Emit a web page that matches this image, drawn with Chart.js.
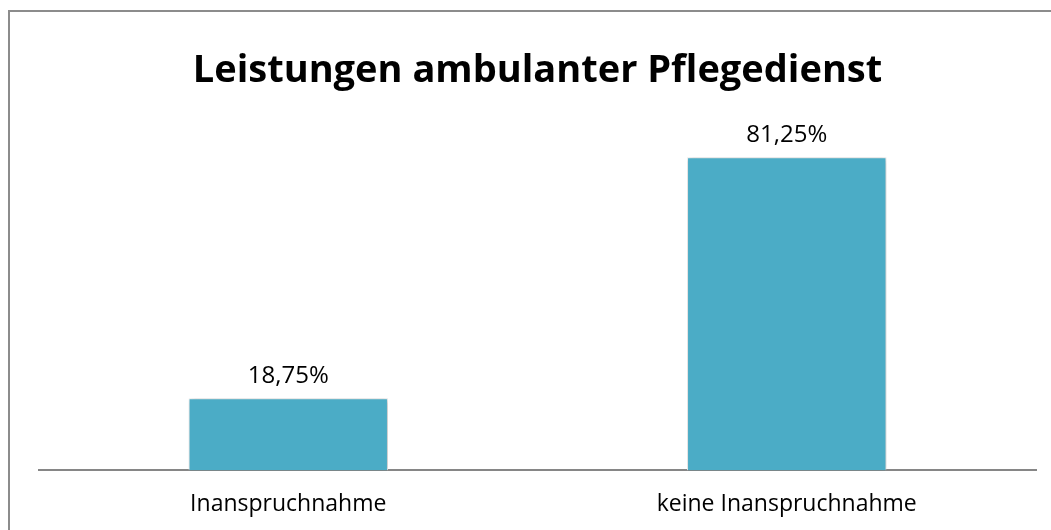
<!DOCTYPE html>
<html>
<head>
<meta charset="utf-8">
<script src="https://cdn.jsdelivr.net/npm/chart.js@4"></script>
<style>
  html, body { margin: 0; padding: 0; background: #fff; overflow: hidden; }
  #frame { position: absolute; left: 8px; top: 10px; width: 1100px; height: 600px;
           border-left: 2px solid #8c8c8c; border-top: 2px solid #8c8c8c; }
  #wrap { position: absolute; left: 0; top: 0; width: 1051px; height: 538px; }
</style>
</head>
<body>
<div id="frame"></div>
<div id="wrap"><canvas id="pflegeChart"></canvas></div>
<script>
var categories = ["Inanspruchnahme", "keine Inanspruchnahme"];
var values = [18.75, 81.25];
var valueLabels = ["18,75%", "81,25%"];

// draws the percent labels above the bars
var barLabels = {
    id: 'barLabels',
    beforeDatasetsDraw: function(chart) {
        chart.ctx.save();
        chart.ctx.shadowColor = 'rgba(0,0,0,0.3)';
        chart.ctx.shadowBlur = 5;
        chart.ctx.shadowOffsetX = 1;
        chart.ctx.shadowOffsetY = 1;
    },
    afterDatasetsDraw: function(chart) {
        var ctx = chart.ctx;
        ctx.restore();
        var meta = chart.getDatasetMeta(0);
        ctx.save();
        ctx.font = '24px "Open Sans"';
        ctx.fillStyle = '#000';
        ctx.textAlign = 'center';
        ctx.textBaseline = 'middle';
        meta.data.forEach(function(bar, i) {
            ctx.fillText(valueLabels[i], bar.x, bar.y - 22);
        });
        ctx.restore();
    }
};

var ctx = document.getElementById('pflegeChart');

var myChart = new Chart(ctx, {
    type: 'bar',
    data: {
        labels: categories,
        datasets: [{
            data: values,
            backgroundColor: '#4bacc6',
            borderColor: '#f2f2f2',
            borderWidth: 1,
            barPercentage: 0.4,
            categoryPercentage: 1.0
        }]
    },
    options: {
        responsive: true,
        maintainAspectRatio: false,
        animation: false,
        layout: {
            padding: { left: 39, right: 15, top: 0, bottom: 0 }
        },
        plugins: {
            legend: { display: false },
            tooltip: { enabled: false },
            title: {
                display: true,
                text: 'Leistungen ambulanter Pflegedienst',
                color: '#000',
                font: { family: '"Open Sans"', size: 38, weight: 'bold' },
                padding: { top: 48, bottom: 30 }
            }
        },
        scales: {
            x: {
                grid: { display: false, drawTicks: false },
                border: { display: true, color: '#868686', width: 2 },
                ticks: {
                    color: '#000',
                    padding: 20,
                    font: { family: '"Open Sans"', size: 23 }
                }
            },
            y: {
                display: false,
                min: 0,
                max: 90
            }
        }
    },
    plugins: [barLabels]
});
</script>
</body>
</html>
